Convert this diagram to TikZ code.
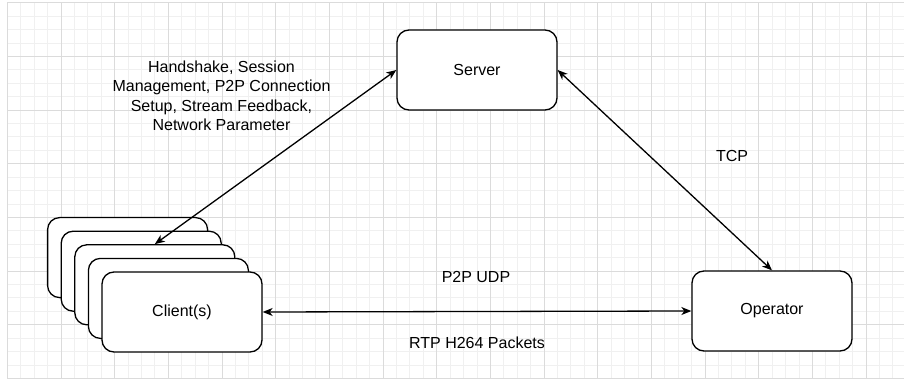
\documentclass[tikz,border=0pt]{standalone}
\usepackage{fontspec}
\setmainfont{Liberation Sans}
\usetikzlibrary{arrows.meta}

\tikzset{
  box/.style={draw=black, line width=1.3pt, fill=white, rounded corners=12pt,
    minimum width=160pt, minimum height=80pt, inner sep=0pt,
    font=\fontsize{16}{19.5}\selectfont},
  lbl/.style={align=center, inner sep=0pt, font=\fontsize{16}{19.5}\selectfont},
  link/.style={line width=1.3pt, {Stealth[length=10pt,width=8pt,inset=3pt]}-{Stealth[length=10pt,width=8pt,inset=3pt]}},
  minorline/.style={draw=black!6, line width=0.8pt},
  majorline/.style={draw=black!14, line width=0.8pt}
}

\begin{document}
\begin{tikzpicture}[x=1pt, y=-1pt]
 \useasboundingbox (0,0) rectangle (904,379);
 \fill[white] (0,0) rectangle (904,379);

 % background grid
 \foreach \i in {0,...,67}
   \draw[minorline] ({7.3+13.417*\i},2.7) -- ({7.3+13.417*\i},379);
 \foreach \j in {0,...,28}
   \draw[minorline] (7.3,{2.7+13.417*\j}) -- (904,{2.7+13.417*\j});
 \foreach \i in {0,...,16}
   \draw[majorline] ({7.3+53.67*\i},2.7) -- ({7.3+53.67*\i},379);
 \foreach \j in {0,...,7}
   \draw[majorline] (7.3,{2.7+53.67*\j}) -- (904,{2.7+53.67*\j});

 % nodes
 \node[box] (server) at (477,70) {Server};
 \node[box] (operator) at (772,311) {Operator};

 \node[box] (client1) at ({182-4*13.6},{312-4*13.6}) {};
 \node[box] (client2) at ({182-3*13.6},{312-3*13.6}) {};
 \node[box] (client3) at ({182-2*13.6},{312-2*13.6}) {};
 \node[box] (client4) at ({182-1*13.6},{312-1*13.6}) {};
 \node[box] (client) at (182,312) {Client(s)};

 % links
 \draw[link] (client3.north) -- (server.west);
 \draw[link] (server.east) -- (operator.north);
 \draw[link] (client.east) -- (operator.west);

 % labels
 \node[lbl] (ctrl) at (221.5,96) {Handshake, Session\\Management, P2P Connection\\Setup, Stream Feedback,\\Network Parameter};
 \node[lbl] (tcp) at (732,156) {TCP};
 \node[lbl] (udp) at (476,277) {P2P UDP};
 \node[lbl] (rtp) at (477,343) {RTP H264 Packets};
\end{tikzpicture}
\end{document}
